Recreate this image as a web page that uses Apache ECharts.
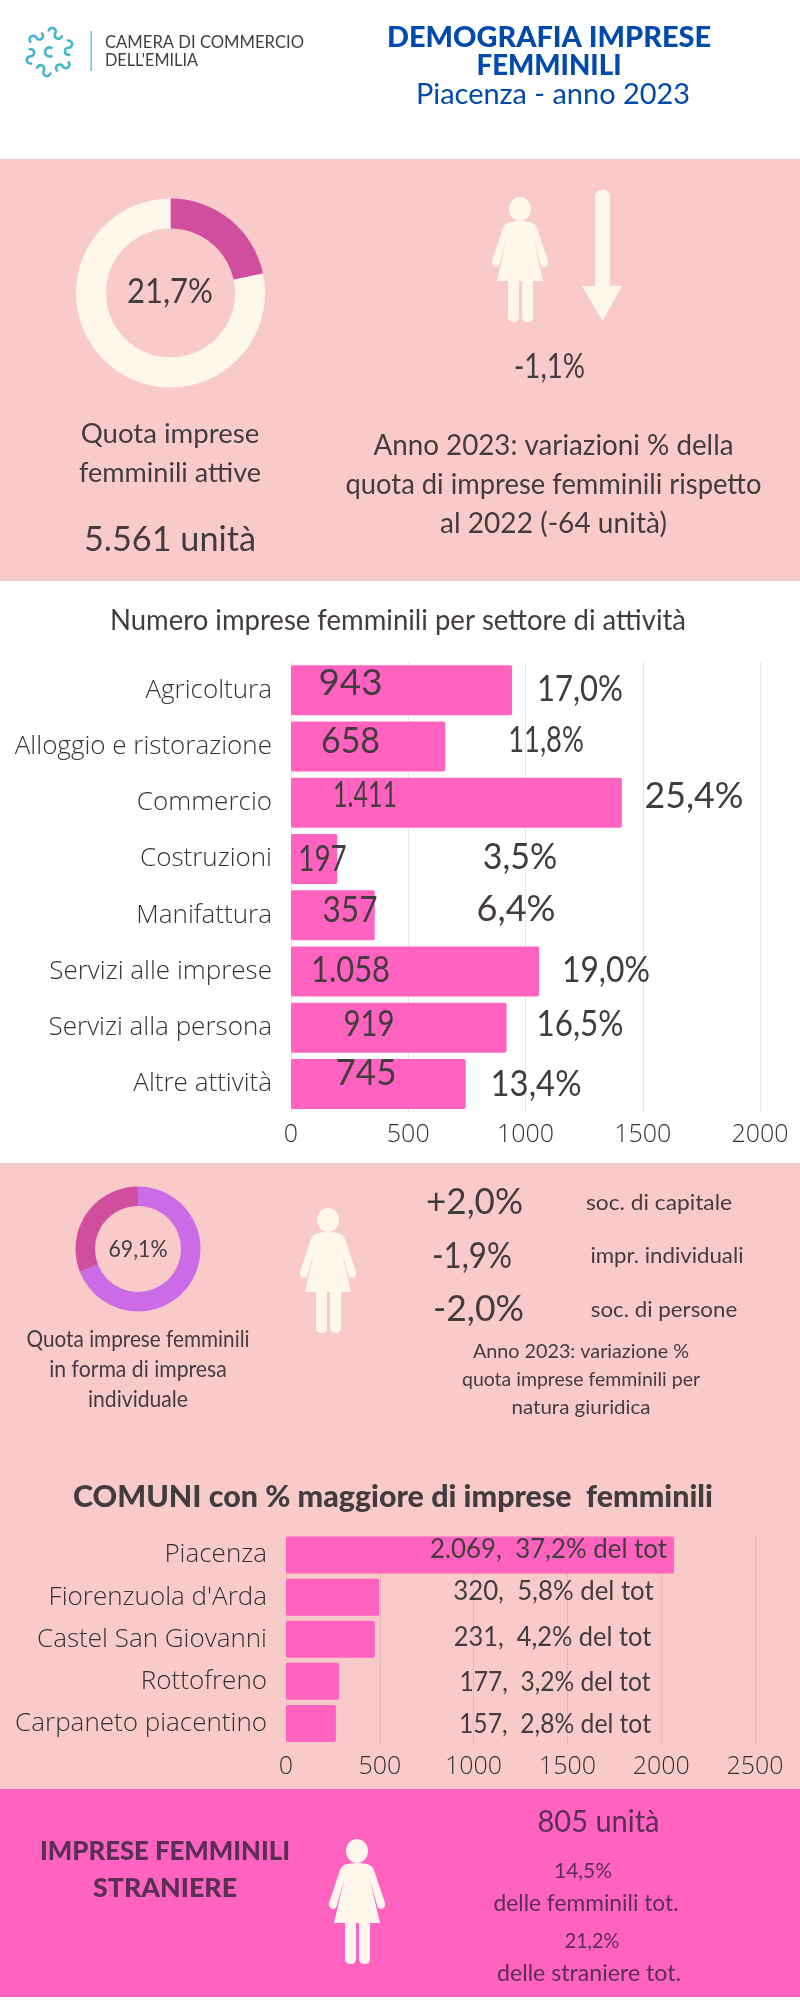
<!DOCTYPE html>
<html>
<head>
<meta charset="utf-8">
<script src="https://cdn.jsdelivr.net/npm/echarts@6/dist/echarts.min.js"></script>
<style>
  html, body { margin: 0; padding: 0; background: #fff; }
  #chart { width: 800px; height: 2000px; }
</style>
</head>
<body>
<div id="chart"></div>
<script>
// donuts
const quotaAttive = [21.7, 78.3]
const quotaIndividuali = [69.1, 30.9]

// settori
const settori = ['Agricoltura', 'Alloggio e ristorazione', 'Commercio', 'Costruzioni', 'Manifattura', 'Servizi alle imprese', 'Servizi alla persona', 'Altre attività']
const settoriValori = [943, 658, 1411, 197, 357, 1058, 919, 745]
const settoriConteggi = ['943', '658', '1.411', '197', '357', '1.058', '919', '745']
const settoriQuote = ['17,0%', '11,8%', '25,4%', '3,5%', '6,4%', '19,0%', '16,5%', '13,4%']

// comuni: bar lengths as drawn in the picture, they differ from the printed labels
const comuni = ['Piacenza', "Fiorenzuola d'Arda", 'Castel San Giovanni', 'Rottofreno', 'Carpaneto piacentino']
const comuniValori = [2069, 497, 473, 283, 266]
const comuniEtichette = ['2.069,  37,2% del tot', '320,  5,8% del tot', '231,  4,2% del tot', '177,  3,2% del tot', '157,  2,8% del tot']

const DARK = '#423c3f'
const CREAM = '#fff6ec'
const BAND = '#f8cbca'
const PINK = '#ff62bf'
const MAGENTA = '#d14e9f'
const VIOLET = '#cb6ce6'
const BLUE = '#004aad'
const PLUM = '#5a2f56'
const TEAL = '#45b6c9'
const FONT = 'Lato'
const AXIS_FONT = 'Open Sans'

const WOMAN = 'M17 12A11 12 0 1 1 39 12A11 12 0 1 1 17 12ZM18 25Q28 23 38 25Q44 26 46 34L56 64Q57 69 52 70Q49 70 48 66L41 41L51 84L41 84L41 120Q41 125 36 125Q30 125 30 120L30 84L27 84L27 120Q27 125 22 125Q16 125 16 120L16 84L5 84L15 41L8 66Q7 70 4 70Q-1 69 0 64L10 34Q12 26 18 25Z'
const ARROW = 'M13 7A7.5 7.5 0 0 1 28 7L28 96L40 96L20.5 131L0 96L13 96Z'
const CURL = 'M-6.5 2.5A3.6 3.6 0 1 1 0 0A3.6 3.6 0 1 0 6.5 -2.5'

// the graphic component has no plain path type, so the icons are registered as shapes
echarts.graphic.registerShape('woman', echarts.graphic.extendPath(WOMAN, {}))
echarts.graphic.registerShape('downArrow', echarts.graphic.extendPath(ARROW, {}))
echarts.graphic.registerShape('logoCurl', echarts.graphic.extendPath(CURL, {}))

const ruler = document.createElement('canvas').getContext('2d')

// opts.w is the width the line has in the picture, its font is squeezed to that
const txt = (text, x, y, size, opts = {}) => {
  const font = `${opts.weight || 400} ${size}px "${opts.font || FONT}"`
  ruler.font = font
  const scaleX = opts.w ? opts.w / ruler.measureText(text).width : 1
  return {
    type: 'text',
    z: 100,
    x,
    y,
    scaleX,
    style: {
      text,
      fill: opts.color || DARK,
      font,
      textAlign: opts.align || 'center',
      textVerticalAlign: 'middle',
    },
  }
}
const band = (y, height, fill) => ({ type: 'rect', z: -10, shape: { x: 0, y, width: 800, height }, style: { fill } })
const woman = (x, y) => ({ type: 'woman', z: 5, x, y, style: { fill: CREAM } })

// logo: six small S curls around a C in the middle
function logo() {
  const out = []
  const cx = 49.5, cy = 52
  const stroke = { stroke: TEAL, lineWidth: 2.6, fill: 'none' }
  for (let i = 0; i < 6; i++) {
    const a = (i * Math.PI) / 3 - Math.PI / 2 + 0.3
    out.push({
      type: 'logoCurl', z: 5,
      x: cx + 19.5 * Math.cos(a),
      y: cy + 19.5 * Math.sin(a),
      rotation: -(a + Math.PI / 2 + 0.35),
      style: stroke,
    })
  }
  out.push({ type: 'arc', z: 5, shape: { cx, cy, r: 4.5, startAngle: 0.9, endAngle: 5.4 }, style: stroke })
  return out
}

const countX = [350.5, 350.5, 365, 322.5, 350, 350.5, 369, 366]
const countY = [683, 741, 795, 859, 910, 970, 1024, 1073]
const countW = [64, 59, 64, 48.5, 55, 79, 51, 61]
const shareX = [580, 546, 694, 520, 516, 606, 580, 536]
const shareY = [689, 740, 796, 857, 909, 970, 1024, 1084]
const shareW = [86, 75.5, 99, 74.5, 79, 88, 87, 91]
const comuneX = [548.5, 553.5, 552.5, 555, 555]
const comuneY = [1550, 1592, 1638, 1683, 1725]
const comuneW = [237, 200.5, 197.5, 191, 192]

const graphics = [
  band(159, 422, BAND),
  band(1163, 626, BAND),
  band(1789, 208, PINK),
  ...logo(),
  { type: 'rect', z: 5, shape: { x: 90.5, y: 31, width: 1.2, height: 40 }, style: { fill: TEAL } },
  txt('CAMERA DI COMMERCIO', 105, 43, 17, { align: 'left', color: '#3f3f3f', w: 199 }),
  txt("DELL'EMILIA", 105, 61, 17, { align: 'left', color: '#3f3f3f', w: 93 }),
  txt('DEMOGRAFIA IMPRESE', 549, 38, 29, { weight: 900, color: BLUE, w: 324 }),
  txt('FEMMINILI', 549, 66, 29, { weight: 900, color: BLUE, w: 145 }),
  txt('Piacenza - anno 2023', 553, 95, 29, { color: BLUE, w: 274 }),

  txt('21,7%', 170, 292, 35, { w: 86 }),
  woman(492, 197),
  { type: 'downArrow', z: 5, x: 582, y: 190, style: { fill: CREAM } },
  txt('-1,1%', 549.5, 367, 35, { w: 71 }),
  txt('Quota imprese', 170, 434, 27, { w: 178.6 }),
  txt('femminili attive', 170, 473, 27, { w: 182 }),
  txt('5.561 unità', 170, 540, 35, { w: 172 }),
  txt('Anno 2023: variazioni % della', 553.5, 446, 28, { w: 360 }),
  txt('quota di imprese femminili rispetto', 553.5, 485, 28, { w: 416 }),
  txt('al 2022 (-64 unità)', 553.5, 523.5, 28, { w: 227 }),

  txt('Numero imprese femminili per settore di attività', 398, 621, 28, { w: 576 }),
  ...settoriConteggi.map((t, i) => txt(t, countX[i], countY[i], 36, { w: countW[i] })),
  ...settoriQuote.map((t, i) => txt(t, shareX[i], shareY[i], 36, { w: shareW[i] })),

  txt('69,1%', 138, 1249, 24, { w: 59 }),
  txt('Quota imprese femminili', 138, 1340, 23, { w: 223 }),
  txt('in forma di impresa', 138, 1370, 23, { w: 177.5 }),
  txt('individuale', 138, 1400, 23, { w: 100 }),
  woman(300, 1208),
  txt('+2,0%', 474.5, 1202, 36, { w: 97 }),
  txt('-1,9%', 472, 1256, 36, { w: 80 }),
  txt('-2,0%', 478.5, 1309, 36, { w: 91 }),
  txt('soc. di capitale', 659, 1203, 22, { w: 146 }),
  txt('impr. individuali', 667, 1256, 22, { w: 153 }),
  txt('soc. di persone', 664, 1310, 22, { w: 146.5 }),
  txt('Anno 2023: variazione %', 581, 1352, 20, { w: 216 }),
  txt('quota imprese femminili per', 581, 1380, 20, { w: 238 }),
  txt('natura giuridica', 581, 1408, 20, { w: 139 }),

  txt('COMUNI con % maggiore di imprese  femminili', 393, 1497, 30, { weight: 900, w: 640 }),
  ...comuniEtichette.map((t, i) => txt(t, comuneX[i], comuneY[i], 26, { w: comuneW[i] })),

  txt('IMPRESE FEMMINILI', 165, 1851.5, 26, { weight: 900, color: PLUM, w: 250 }),
  txt('STRANIERE', 165, 1889, 26, { weight: 900, color: PLUM, w: 144 }),
  woman(329, 1839),
  txt('805 unità', 598.5, 1822, 30, { color: PLUM, w: 122 }),
  txt('14,5%', 583, 1870.5, 22, { color: PLUM, w: 58 }),
  txt('delle femminili tot.', 586, 1904, 23, { color: PLUM, w: 185 }),
  txt('21,2%', 592, 1941, 22, { color: PLUM, w: 54.6 }),
  txt('delle straniere tot.', 589, 1974, 23, { color: PLUM, w: 184 }),
]

const valueAxis = (gridIndex, max, lineColor) => ({
  type: 'value',
  gridIndex,
  min: 0,
  max,
  interval: 500,
  axisLine: { show: false },
  axisTick: { show: false },
  axisLabel: {
    color: '#333',
    fontFamily: AXIS_FONT,
    fontWeight: 300,
    fontSize: 25,
    margin: 10,
    hideOverlap: false,
    formatter: (v) => String(v),
  },
  splitLine: { lineStyle: { color: lineColor, width: 1 } },
})
const catAxis = (gridIndex, data, fontSize) => ({
  type: 'category',
  gridIndex,
  inverse: true,
  data,
  axisLine: { show: false },
  axisTick: { show: false },
  axisLabel: { color: '#333', fontFamily: AXIS_FONT, fontWeight: 300, fontSize, margin: 19 },
})
const barSeries = (index, data, barWidth) => ({
  type: 'bar',
  xAxisIndex: index,
  yAxisIndex: index,
  data,
  barWidth,
  itemStyle: { color: PINK, borderRadius: 2 },
  silent: true,
  animation: false,
})
const donut = (data, colors, center, radius) => ({
  type: 'pie',
  center,
  radius,
  startAngle: 90,
  clockwise: true,
  silent: true,
  animation: false,
  label: { show: false },
  labelLine: { show: false },
  data: data.map((value, i) => ({ value, itemStyle: { color: colors[i] } })),
})

const chart = echarts.init(document.getElementById('chart'), null, { width: 800, height: 2000 })
chart.setOption({
  backgroundColor: '#fff',
  animation: false,
  graphic: { elements: graphics },
  grid: [
    { left: 291, top: 662, width: 469, height: 450 },
    { left: 286, top: 1534, width: 469, height: 210.5 },
  ],
  xAxis: [valueAxis(0, 2000, '#e6e6e6'), valueAxis(1, 2500, '#e6b9b9')],
  yAxis: [catAxis(0, settori, 26), catAxis(1, comuni, 26)],
  series: [
    barSeries(0, settoriValori, 50),
    barSeries(1, comuniValori, 37),
    donut(quotaAttive, [MAGENTA, CREAM], [170.5, 293], [64.5, 94.5]),
    donut(quotaIndividuali, [VIOLET, MAGENTA], [138, 1249], [43, 62.5]),
  ],
})
</script>
</body>
</html>
